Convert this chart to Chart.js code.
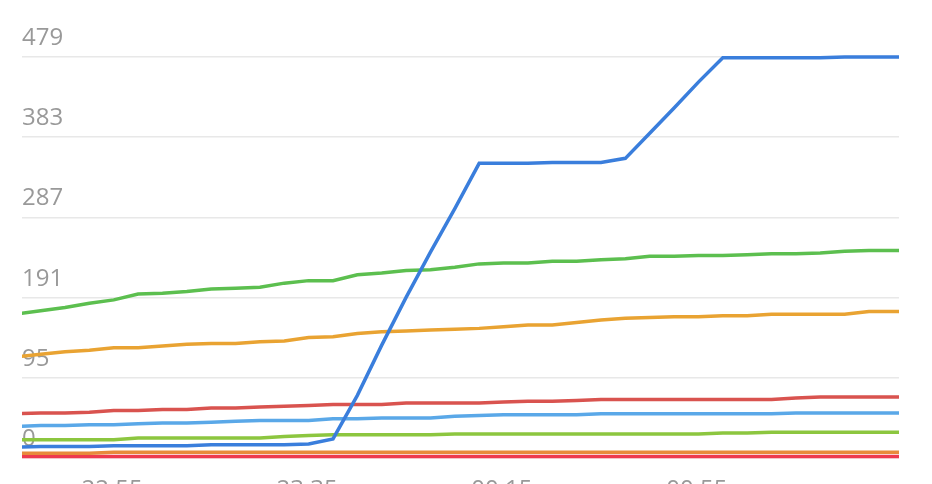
<!DOCTYPE html>
<html>
<head>
<meta charset="utf-8">
<style>
  html, body { margin: 0; padding: 0; overflow: hidden; background: #fff; }
  canvas { display: block; }
</style>
</head>
<body>
<canvas id="grafico" width="932" height="515"></canvas>
<script src="https://cdn.jsdelivr.net/npm/chart.js@4/dist/chart.umd.min.js"></script>
<script>
// readings, every 5 minutes (the last one is the current reading)
const times = [
  '22:35:20', '22:40:20', '22:45:20', '22:50:20', '22:55:20', '23:00:20', '23:05:20', '23:10:20',
  '23:15:20', '23:20:20', '23:25:20', '23:30:20', '23:35:20', '23:40:20', '23:45:20', '23:50:20',
  '23:55:20', '00:00:20', '00:05:20', '00:10:20', '00:15:20', '00:20:20', '00:25:20', '00:30:20',
  '00:35:20', '00:40:20', '00:45:20', '00:50:20', '00:55:20', '01:00:20', '01:05:20', '01:10:20',
  '01:15:20', '01:20:20', '01:25:20', '01:30:20', '01:35:20', '01:36:30'
];
const windowStart = '22:36:30';
const windowEnd = '01:36:30';
const xTickLabels = ['22:55', '23:35', '00:15', '00:55'];
const yMax = 479;

const serieAzul = [13, 14, 14, 14, 15, 15, 15, 15, 16, 16, 16, 16, 17, 23, 75, 135, 192, 246, 298, 352,
  352, 352, 353, 353, 353, 358, 388, 418, 449, 478, 478, 478, 478, 478, 479, 479, 479, 479];
const serieVerde = [172, 176, 180, 185, 189, 196, 197, 199, 202, 203, 204, 209, 212, 212, 219, 221, 224, 225, 228, 232,
  233, 233, 235, 235, 237, 238, 241, 241, 242, 242, 243, 244, 244, 245, 247, 248, 248, 248];
const serieLaranja = [121, 124, 127, 129, 132, 132, 134, 136, 137, 137, 139, 140, 144, 145, 149, 151, 152, 153, 154, 155,
  157, 159, 159, 162, 165, 167, 168, 169, 169, 170, 170, 172, 172, 172, 172, 175, 175, 175];
const serieVermelha = [53, 54, 54, 55, 57, 57, 58, 58, 60, 60, 61, 62, 63, 64, 64, 64, 66, 66, 66, 66,
  67, 68, 68, 69, 70, 70, 70, 70, 70, 70, 70, 70, 72, 73, 73, 73, 73, 73];
const serieAzulClaro = [38, 39, 39, 40, 40, 41, 42, 42, 43, 44, 45, 45, 45, 47, 47, 48, 48, 48, 50, 51,
  52, 52, 52, 52, 53, 53, 53, 53, 53, 53, 53, 53, 54, 54, 54, 54, 54, 54];
const serieVerdeClaro = [22, 22, 22, 22, 22, 24, 24, 24, 24, 24, 24, 26, 27, 28, 28, 28, 28, 28, 29, 29,
  29, 29, 29, 29, 29, 29, 29, 29, 29, 30, 30, 31, 31, 31, 31, 31, 31, 31];
const serieLaranja2 = [6, 6, 6, 6, 7, 7, 7, 7, 7, 7, 7, 7, 7, 7, 7, 7, 7, 7, 7, 7,
  7, 7, 7, 7, 7, 7, 7, 7, 7, 7, 7, 7, 7, 7, 7, 7, 7, 7];
const serieVermelha2 = [2, 2, 2, 2, 2, 2, 2, 2, 2, 2, 2, 2, 2, 2, 2, 2, 2, 2, 2, 2,
  2, 2, 2, 2, 2, 2, 2, 2, 2, 2, 2, 2, 2, 2, 2, 2, 2, 2];

// minutes counted from 22:00, past midnight keeps going
function toMinutes(s) {
  const [h, m, sec] = s.split(':').map(Number);
  return (h < 12 ? h + 24 : h) * 60 + m + (sec || 0) / 60 - 22 * 60;
}

function serie(values) {
  return times.map((t, i) => ({ x: toMinutes(t), y: values[i] }));
}

function linha(values, color) {
  return {
    data: serie(values),
    borderColor: color,
    backgroundColor: color,
    borderWidth: 3.5,
    pointRadius: 0,
    tension: 0,
    fill: false,
    clip: { left: 0, right: 0, top: 5, bottom: 5 }
  };
}

const fonte = { family: "'Open Sans', sans-serif", size: 24 };

let grafico = new Chart(document.getElementById('grafico'), {
  type: 'line',
  data: {
    datasets: [
      linha(serieAzul, '#3a7edc'),
      linha(serieVerde, '#5cbf4f'),
      linha(serieLaranja, '#e9a332'),
      linha(serieVermelha, '#d9534f'),
      linha(serieAzulClaro, '#5aa8e8'),
      linha(serieVerdeClaro, '#8cc63f'),
      linha(serieLaranja2, '#e88a3b'),
      linha(serieVermelha2, '#ee3a4e')
    ]
  },
  options: {
    responsive: false,
    animation: false,
    devicePixelRatio: 1,
    layout: {
      padding: { left: 22, right: 33, top: 57, bottom: 0 }
    },
    plugins: {
      legend: { display: false },
      tooltip: { enabled: false }
    },
    scales: {
      x: {
        type: 'linear',
        min: toMinutes(windowStart),
        max: toMinutes(windowEnd),
        afterBuildTicks: (axis) => {
          axis.ticks = xTickLabels.map(l => ({ value: toMinutes(l) }));
        },
        grid: { display: false },
        border: { display: false },
        ticks: {
          color: '#999',
          font: fonte,
          padding: 10,
          maxRotation: 0,
          callback: (value, index) => xTickLabels[index]
        }
      },
      y: {
        min: 0,
        max: yMax,
        border: { display: false },
        grid: { color: '#e8e8e8', lineWidth: 1.5, drawTicks: false },
        ticks: {
          count: 6,
          mirror: true,
          padding: 0,
          labelOffset: -19,
          color: '#999',
          font: fonte,
          callback: (value) => Math.floor(value)
        }
      }
    }
  }
});
</script>
</body>
</html>
